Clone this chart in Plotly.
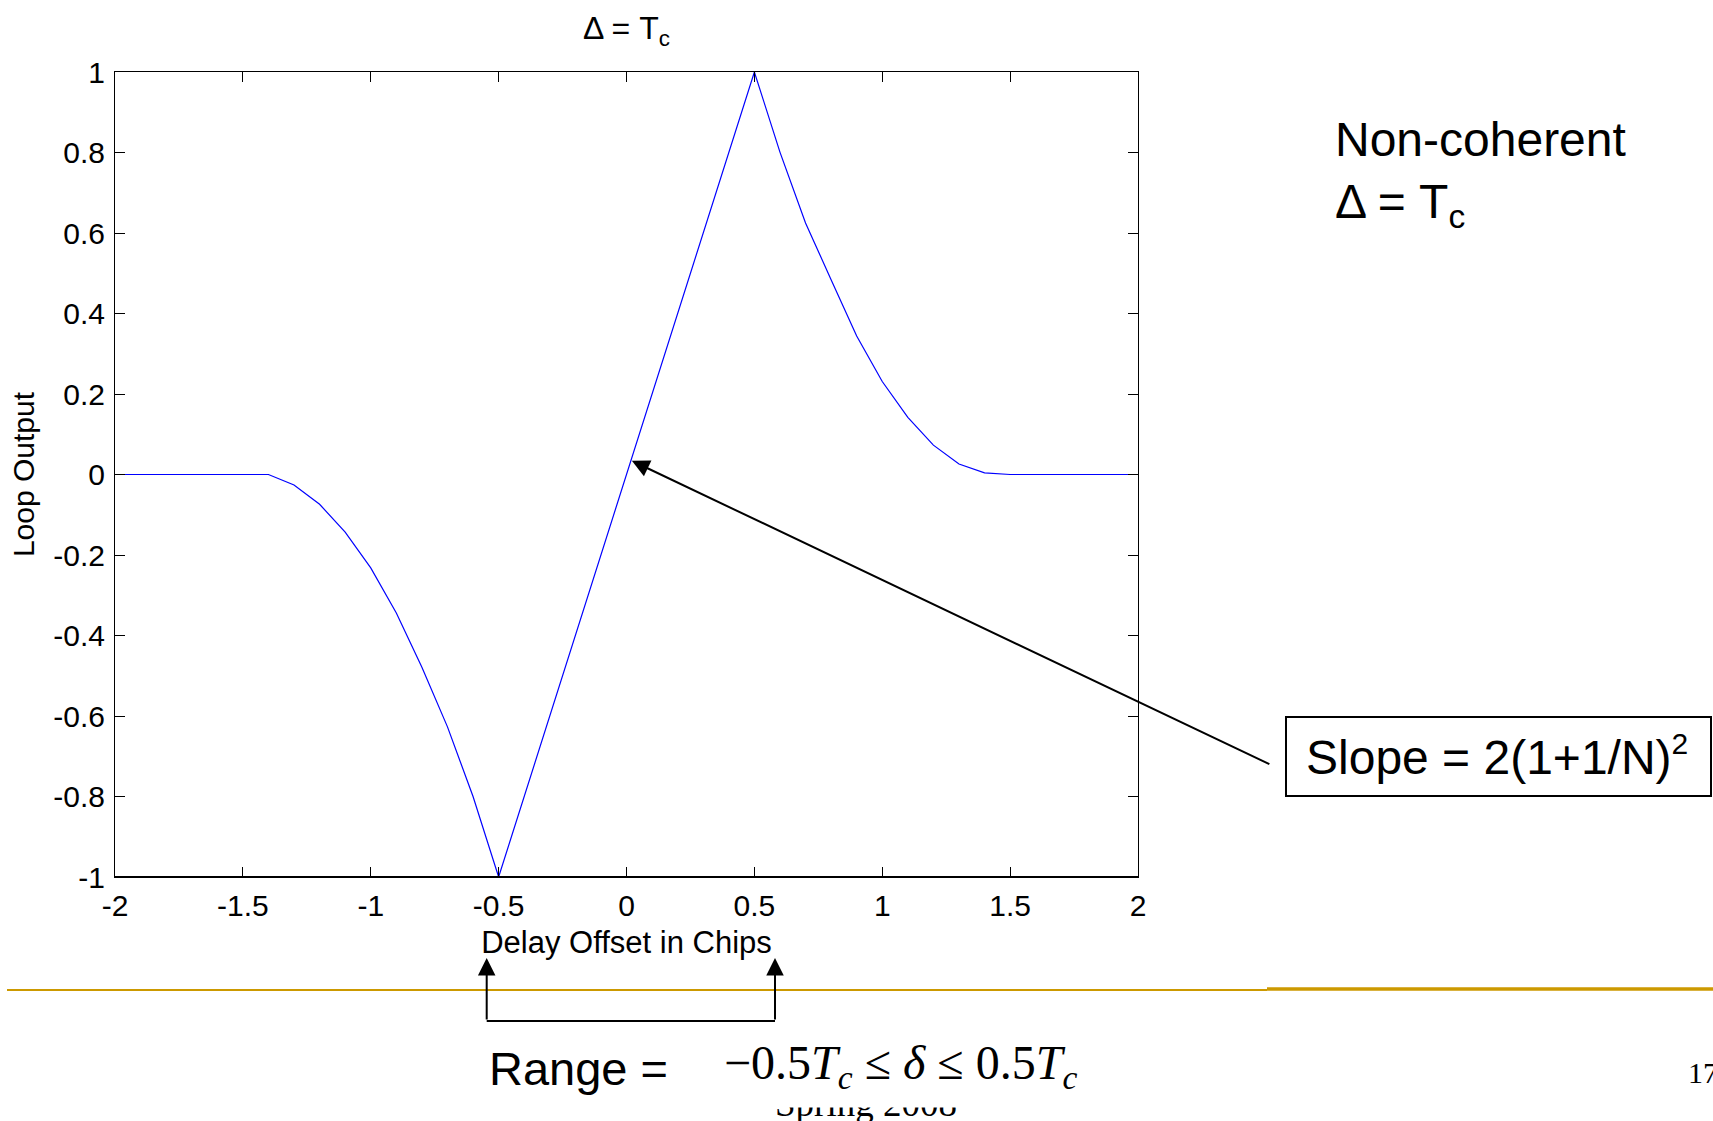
import plotly.graph_objects as go

# Delay offset (chips) and normalised non-coherent early-late loop output
delay_offset = [-2.0, -1.9, -1.8, -1.7, -1.6, -1.5, -1.4, -1.3, -1.2, -1.1,
                -1.0, -0.9, -0.8, -0.7, -0.6, -0.5, -0.4, -0.3, -0.2, -0.1,
                0.0, 0.1, 0.2, 0.3, 0.4, 0.5, 0.6, 0.7, 0.8, 0.9,
                1.0, 1.1, 1.2, 1.3, 1.4, 1.5, 1.6, 1.7, 1.8, 1.9, 2.0]
loop_output = [0.0, 0.0, 0.0, 0.0, 0.0, 0.0, 0.0, -0.026, -0.074, -0.143,
               -0.232, -0.344, -0.479, -0.627, -0.800, -1.0, -0.8, -0.6, -0.4, -0.2,
               0.0, 0.2, 0.4, 0.6, 0.8, 1.0, 0.801, 0.625, 0.484, 0.344,
               0.231, 0.142, 0.073, 0.026, 0.004, 0.0, 0.0, 0.0, 0.0, 0.0, 0.0]

x_ticks = [-2, -1.5, -1, -0.5, 0, 0.5, 1, 1.5, 2]
x_tick_labels = ["-2", "-1.5", "-1", "-0.5", "0", "0.5", "1", "1.5", "2"]
y_ticks = [-1, -0.8, -0.6, -0.4, -0.2, 0, 0.2, 0.4, 0.6, 0.8, 1]
y_tick_labels = ["-1", "-0.8", "-0.6", "-0.4", "-0.2", "0", "0.2", "0.4", "0.6", "0.8", "1"]

# slope-annotation target point on the curve (data units)
slope_point = (0.021, 0.034)

W, H = 1713, 1121
L, R, T, B = 115, 1138, 72, 877
PW, PH = R - L, B - T

SANS = "Liberation Sans, Arial, sans-serif"
SERIF = "Liberation Serif, Times New Roman, serif"
GOLD = "#CC9900"
AX_FONT = 30


def px(xp):
    return (xp - L) / PW


def py(yp):
    return (B - yp) / PH


fig = go.Figure()
fig.add_trace(go.Scatter(
    x=delay_offset, y=loop_output, mode="lines",
    line=dict(color="#0000FF", width=1.2), hoverinfo="skip", showlegend=False,
))

axis_common = dict(
    showline=True, linecolor="black", linewidth=1, mirror="ticks",
    ticks="inside", ticklen=10, tickcolor="black", tickwidth=1,
    showgrid=False, zeroline=False,
    tickfont=dict(family=SANS, size=AX_FONT, color="black"),
)

fig.update_xaxes(range=[-2, 2], tickvals=x_ticks, ticktext=x_tick_labels,
                 ticklabelstandoff=2,
                 title=dict(text="Delay Offset in Chips", standoff=10,
                            font=dict(family=SANS, size=31, color="black")),
                 **axis_common)
fig.update_yaxes(range=[-1, 1], tickvals=y_ticks, ticktext=y_tick_labels,
                 ticklabelstandoff=3,
                 title=dict(text="Loop Output", standoff=9,
                            font=dict(family=SANS, size=30, color="black")),
                 **axis_common)

shapes = [
    # heavier bottom axis line
    dict(type="line", xref="paper", yref="paper", x0=0, x1=1, y0=0, y1=0,
         line=dict(color="black", width=2)),
    # slope label frame
    dict(type="rect", xref="paper", yref="paper",
         x0=px(1286), x1=px(1711), y0=py(796), y1=py(717),
         line=dict(color="black", width=2), fillcolor="rgba(0,0,0,0)"),
    # range bracket base
    dict(type="line", xref="paper", yref="paper",
         x0=px(486.7), x1=px(775), y0=py(1021), y1=py(1021),
         line=dict(color="black", width=2)),
    # footer rule
    dict(type="line", xref="paper", yref="paper",
         x0=px(7), x1=px(1267), y0=py(990), y1=py(990),
         line=dict(color=GOLD, width=2)),
    dict(type="line", xref="paper", yref="paper",
         x0=px(1267), x1=px(1713), y0=py(989), y1=py(989),
         line=dict(color=GOLD, width=3.5)),
]

arrow_style = dict(showarrow=True, arrowhead=2, arrowwidth=2, arrowsize=1.75,
                   arrowcolor="black", standoff=0)

annotations = [
    # side caption
    dict(text="Non-coherent<br>Δ = T<sub>c</sub>", xref="paper", yref="paper",
         x=px(1333), y=py(111), xanchor="left", yanchor="top", align="left",
         showarrow=False, font=dict(family=SANS, size=48, color="black")),
    # slope label
    dict(text="Slope = 2(1+1/N)<sup><span style='font-size:30px'>2</span></sup>",
         xref="paper", yref="paper",
         x=px(1497), y=py(755), xanchor="center", yanchor="middle",
         showarrow=False, font=dict(family=SANS, size=48, color="black")),
    # slope arrow
    dict(text="", x=slope_point[0], y=slope_point[1], xref="x", yref="y",
         ax=1271 - 632, ay=765 - 461, **arrow_style),
    # range bracket arrows
    dict(text="", xref="paper", yref="paper", x=px(486.7), y=py(958),
         ax=0, ay=63, **arrow_style),
    dict(text="", xref="paper", yref="paper", x=px(775), y=py(958),
         ax=0, ay=63, **arrow_style),
    # footer text
    dict(text="Spring 2008", xref="paper", yref="paper", x=px(773), y=py(1103),
         xanchor="left", yanchor="middle", showarrow=False,
         font=dict(family=SERIF, size=37, color="black")),
    dict(text="17", xref="paper", yref="paper", x=px(1686), y=py(1072),
         xanchor="left", yanchor="middle", showarrow=False,
         font=dict(family=SERIF, size=30, color="black")),
    # equation background (sits over the footer text)
    dict(text=" ", xref="paper", yref="paper", x=px(720), y=py(1108),
         xanchor="left", yanchor="bottom", width=360, height=70, bgcolor="white",
         borderpad=0, showarrow=False, font=dict(size=10)),
    dict(text="Range =", xref="paper", yref="paper", x=px(487), y=py(1068),
         xanchor="left", yanchor="middle", showarrow=False,
         font=dict(family=SANS, size=47, color="black")),
    dict(text="−0.5<i>T</i><sub><i>c</i></sub> ≤ <i>δ</i> ≤ 0.5<i>T</i><sub><i>c</i></sub>",
         xref="paper", yref="paper", x=px(722), y=py(1066),
         xanchor="left", yanchor="middle", showarrow=False,
         font=dict(family=SERIF, size=48, color="black")),
]

fig.update_layout(
    width=W, height=H,
    margin=dict(l=L, r=W - R, t=T, b=H - B, pad=0),
    paper_bgcolor="white", plot_bgcolor="white",
    title=dict(text="Δ = T<sub>c</sub>", x=0.5, xref="paper", xanchor="center",
               y=1 - 28 / H, yref="container", yanchor="middle",
               font=dict(family=SANS, size=32, color="black")),
    shapes=shapes, annotations=annotations, showlegend=False,
)

fig.write_html("out.html")
